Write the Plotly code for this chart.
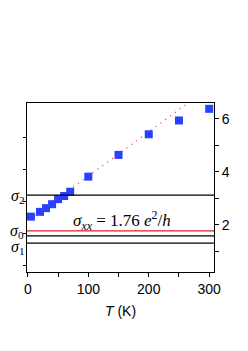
import plotly.graph_objects as go

T = [5, 20, 30, 40, 50, 60, 70, 100, 150, 200, 250, 300]
sigma = [2.31, 2.49, 2.63, 2.78, 2.97, 3.09, 3.25, 3.82, 4.64, 5.42, 5.94, 6.38]
fit_T = [3, 280]
fit_sigma = [2.22, 6.85]
sigma2 = 3.12
sigma_xx = 1.77
sigma0 = 1.585
sigma1 = 1.31
right_ticks = [1, 2, 3, 4, 5, 6]
right_labels = ["", "2", "", "4", "", "6"]
left_ticks = [0.45, 1.66, 2.87, 4.08, 5.28]

XR = [-1.5, 308]
YR = [0.22, 6.6]

fig = go.Figure()
fig.add_trace(go.Scatter(x=fit_T, y=fit_sigma, mode="lines",
                         line=dict(color="#ff3030", width=1.3, dash="1px,5px"),
                         showlegend=False, cliponaxis=True))
fig.add_trace(go.Scatter(x=T, y=sigma, mode="markers",
                         marker=dict(symbol="square", size=8, color="#2a40ff"),
                         showlegend=False))
fig.add_trace(go.Scatter(x=[None], y=[None], yaxis="y2", showlegend=False))

for yv, col in [(sigma2, "black"), (sigma_xx, "#e02020"), (sigma0, "black"), (sigma1, "black")]:
    fig.add_shape(type="line", xref="x domain", x0=0, x1=1, yref="y", y0=yv, y1=yv,
                  line=dict(color=col, width=1.2))

ann_font = dict(family="Liberation Serif, serif", size=16, color="black")
fig.add_annotation(x=0, xref="paper", xanchor="right", xshift=-1, y=sigma2, yref="y",
                   text="<i>σ</i><sub>2</sub>", showarrow=False, font=ann_font, yshift=-1)
fig.add_annotation(x=0, xref="paper", xanchor="right", xshift=-1, y=sigma0, yref="y",
                   text="<i>σ</i><sub>0</sub>", showarrow=False, font=ann_font, yshift=4)
fig.add_annotation(x=0, xref="paper", xanchor="right", xshift=-1, y=sigma1, yref="y",
                   text="<i>σ</i><sub>1</sub>", showarrow=False, font=ann_font, yshift=-4)
fig.add_annotation(x=155, xref="x", y=2.15, yref="y",
                   text="<i>σ<sub>xx</sub></i> = 1.76 <i>e</i><sup>2</sup>/<i>h</i>",
                   showarrow=False, font=dict(family="Liberation Serif, serif", size=17, color="black"))
fig.add_annotation(x=1, xref="paper", xanchor="left", xshift=24, y=3.3, yref="y",
                   text="e<sup>2</sup>/h", textangle=-90, showarrow=False,
                   font=dict(family="Liberation Sans, Arial", size=13, color="black"))

fig.update_layout(
    width=248, height=351,
    margin=dict(l=19, r=42, t=95, b=87),
    paper_bgcolor="white", plot_bgcolor="white",
    font=dict(family="Liberation Sans, Arial", size=14, color="black"),
    xaxis=dict(range=XR, tickvals=[0, 50, 100, 150, 200, 250, 300],
               ticktext=["0", "", "100", "", "200", "", "300"],
               ticks="outside", ticklen=4, tickcolor="black", automargin=False,
               showline=True, linecolor="black", linewidth=1, mirror=True,
               showgrid=False, zeroline=False,
               title=dict(text="<i>T</i> (K)", font=dict(size=14), standoff=10)),
    yaxis=dict(range=YR, side="right", tickvals=right_ticks, ticktext=right_labels,
               ticks="outside", ticklen=4, tickcolor="black", automargin=False,
               showline=True, linecolor="black", linewidth=1, mirror=True,
               showgrid=False, zeroline=False),
    yaxis2=dict(range=YR, overlaying="y", side="left", tickvals=left_ticks,
                ticktext=[""] * len(left_ticks), ticks="outside", ticklen=3,
                tickcolor="black", showgrid=False, zeroline=False, showline=False,
                automargin=False),
)

fig.write_html("out.html")
